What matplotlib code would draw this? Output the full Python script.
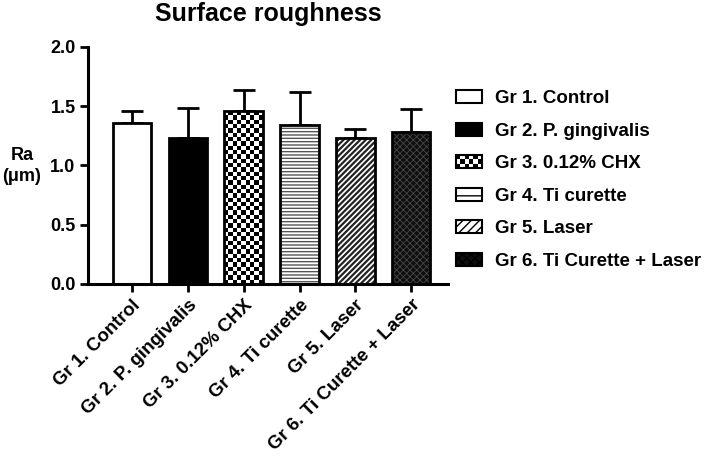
import matplotlib
matplotlib.use("Agg")
import matplotlib.pyplot as plt
from matplotlib.patches import Patch, Rectangle
from matplotlib.legend_handler import HandlerBase
import numpy as np

plt.rcParams['font.family'] = ['Liberation Sans', 'DejaVu Sans']

groups = ["Gr 1. Control", "Gr 2. P. gingivalis", "Gr 3. 0.12% CHX",
          "Gr 4. Ti curette", "Gr 5. Laser", "Gr 6. Ti Curette + Laser"]
means = [1.36, 1.23, 1.455, 1.34, 1.23, 1.285]
sds = [0.10, 0.25, 0.18, 0.28, 0.08, 0.19]
yticks = [0.0, 0.5, 1.0, 1.5, 2.0]

faces = ["white", "black", "white", "white", "white", "#0e0e0e"]
hatches = [None, None, "checker", "-----", "//////", "xxxxx"]
hcolors = ["black", "black", "black", "#555555", "#222222", "#484848"]
hwidths = [1.0, 1.0, 1.0, 1.0, 1.6, 0.6]

W, H = 708, 459
fig = plt.figure(figsize=(W / 100, H / 100), dpi=100)
ax = fig.add_axes([88 / W, 1 - 284 / H, 360 / W, (284 - 46.7) / H])

x = np.arange(len(groups))
w = 0.69
xlim = (-0.79, 5.66)
ylim = (0, 2.0)
ax.set_xlim(*xlim)
ax.set_ylim(*ylim)
px_per_x = 360 / (xlim[1] - xlim[0])
px_per_y = (284 - 46.7) / (ylim[1] - ylim[0])

for i in range(len(groups)):
    plt.rcParams['hatch.linewidth'] = hwidths[i]
    if hatches[i] == "checker":
        base = ax.bar(x[i], means[i], w, color="white", linewidth=0, zorder=2)[0]
        cell = 4.3
        ncol = max(1, int(round(w * px_per_x / cell)))
        nrow = max(1, int(round(means[i] * px_per_y / cell)))
        r, c = np.indices((nrow, ncol))
        arr = ((r + c) % 2).astype(float)
        im = ax.imshow(arr, cmap="gray", vmin=0, vmax=1, interpolation="nearest",
                       extent=(x[i] - w / 2, x[i] + w / 2, 0, means[i]),
                       aspect="auto", zorder=2.5, origin="lower")
        im.set_clip_path(base)
    else:
        ax.bar(x[i], means[i], w, color=faces[i], hatch=hatches[i],
               edgecolor=hcolors[i], linewidth=0, zorder=2)
    ax.bar(x[i], means[i], w, fill=False, edgecolor="black", linewidth=2, zorder=3)
plt.rcParams['hatch.linewidth'] = 1.0
ax.errorbar(x, means, yerr=[np.zeros(len(sds)), sds], fmt="none", ecolor="black",
            elinewidth=2, capsize=8, capthick=2, zorder=1)

ax.set_xlim(*xlim)
ax.set_ylim(*ylim)
ax.set_yticks(yticks)
ax.set_yticklabels([f"{v:.1f}" for v in yticks], fontsize=13, fontweight="bold")
ax.set_xticks(x)
ax.set_xticklabels(groups, rotation=45, ha="right", rotation_mode="anchor",
                   fontsize=13.5, fontweight="bold")
for s in ["top", "right"]:
    ax.spines[s].set_visible(False)
for s in ["left", "bottom"]:
    ax.spines[s].set_linewidth(2.2)
ax.tick_params(width=2, length=6, pad=3)

fig.text(((88 + 448) / 2) / W, 1 - 21 / H, "Surface roughness", fontsize=18,
         fontweight="bold", ha="center", va="baseline")
fig.text(22 / W, 1 - 166 / H, "Ra\n(\u03bcm)", fontsize=13, fontweight="bold",
         ha="center", va="center", multialignment="center", linespacing=1.3)


class HandlerChecker(HandlerBase):
    def create_artists(self, legend, orig_handle, xdescent, ydescent, width,
                       height, fontsize, trans):
        arts = [Rectangle((-xdescent, -ydescent), width, height, facecolor="white",
                          edgecolor="none", transform=trans)]
        ncol, nrow = 6, 3
        cw, ch = width / ncol, height / nrow
        for r in range(nrow):
            for c in range(ncol):
                if (r + c) % 2 == 0:
                    arts.append(Rectangle((-xdescent + c * cw, -ydescent + r * ch), cw, ch,
                                          facecolor="black", edgecolor="none",
                                          transform=trans))
        arts.append(Rectangle((-xdescent, -ydescent), width, height, facecolor="none",
                              edgecolor="black", linewidth=1.5, transform=trans))
        return arts


class CheckerPatch(Patch):
    pass


leg_hatches = [None, None, None, "--", "////", "xxxx"]
handles = []
for i in range(len(groups)):
    plt.rcParams['hatch.linewidth'] = hwidths[i]
    if hatches[i] == "checker":
        handles.append(CheckerPatch(facecolor="white"))
    else:
        handles.append(Patch(facecolor=faces[i], hatch=leg_hatches[i],
                             edgecolor="black", linewidth=1.5))
plt.rcParams['hatch.linewidth'] = 1.0
leg = fig.legend(handles, groups, loc="upper left",
                 bbox_to_anchor=(456 / W, 1 - 90 / H),
                 frameon=False, prop={"weight": "bold", "size": 13.5},
                 handlelength=1.4, handleheight=0.7, handletextpad=0.7,
                 labelspacing=0.82, borderpad=0, borderaxespad=0,
                 handler_map={CheckerPatch: HandlerChecker()})

fig.savefig("out.png", dpi=100)
